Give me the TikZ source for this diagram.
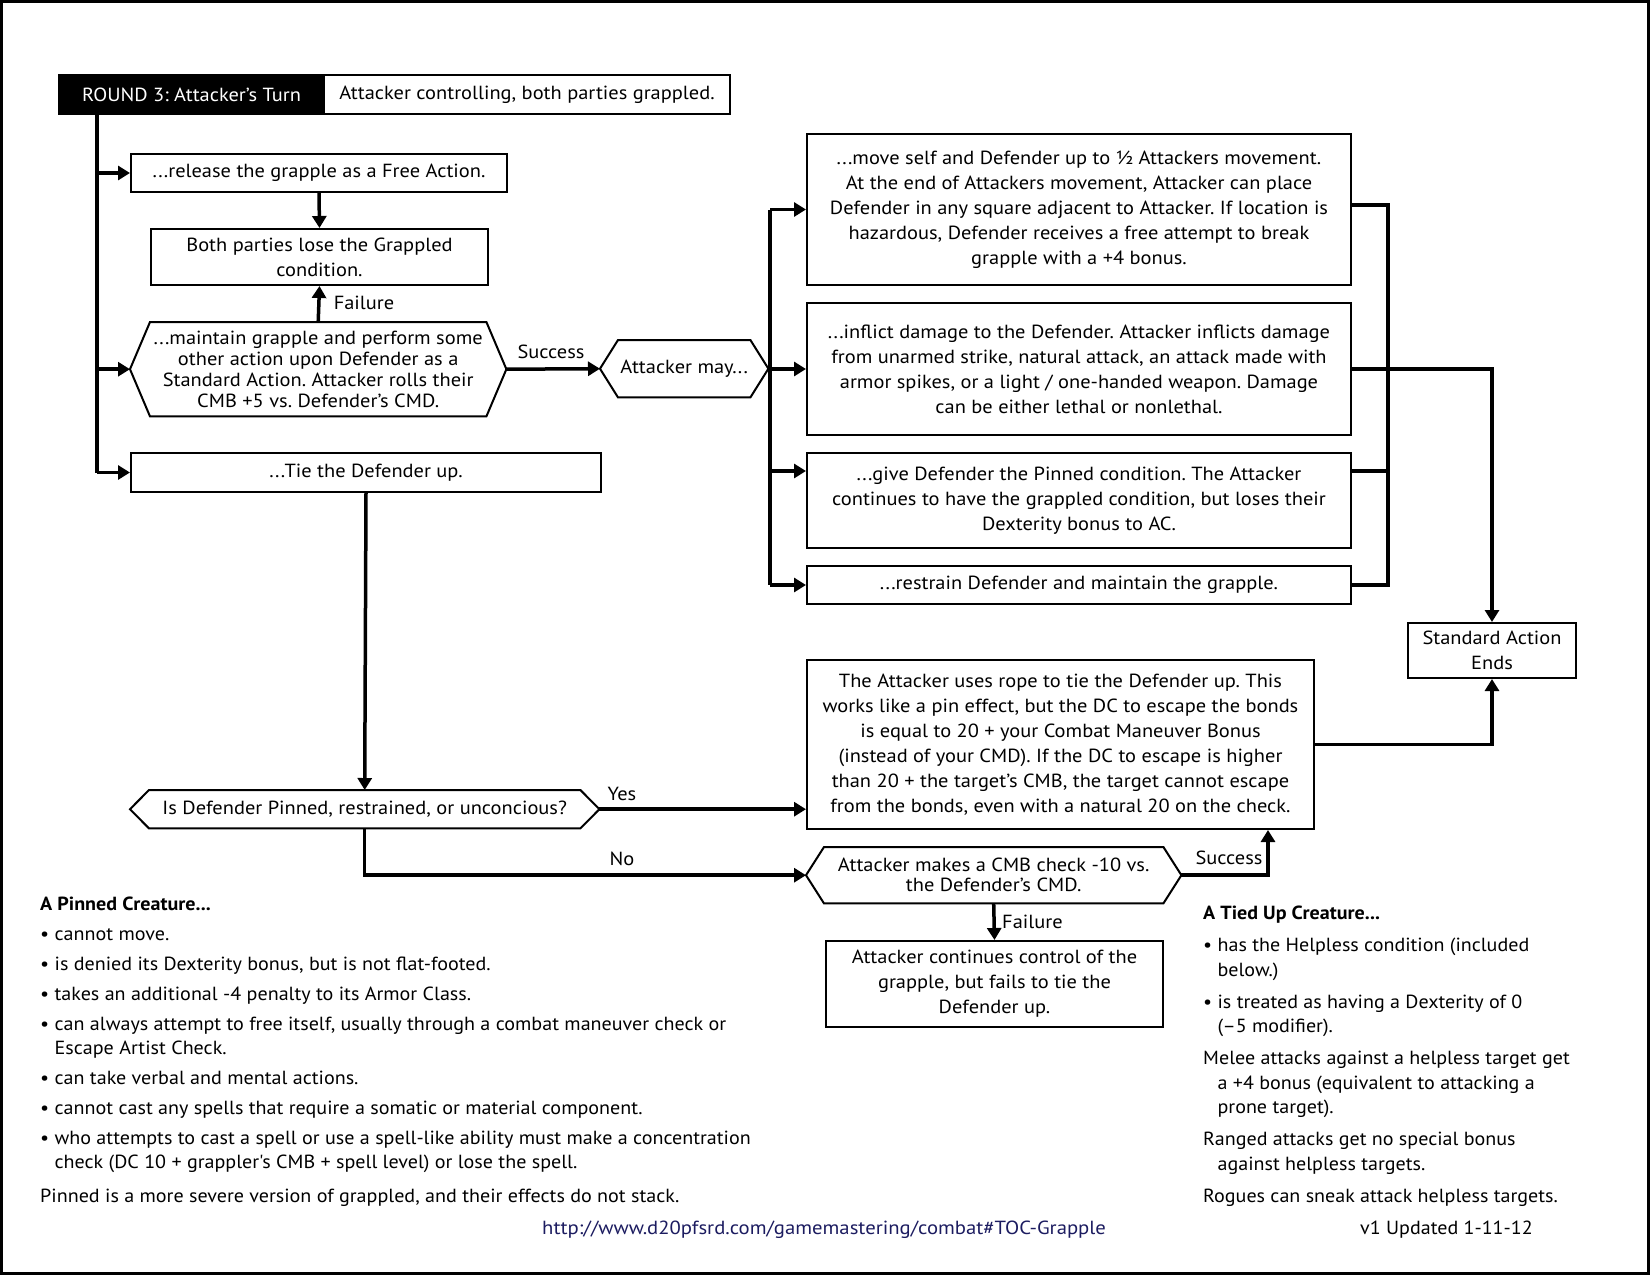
\documentclass[tikz,border=0pt]{standalone}
\usepackage{fontspec}
\setmainfont[FakeStretch=1.075]{PT Sans}
\newfontfamily\pinfont[FakeStretch=1.057]{PT Sans}
\newfontfamily\tiedfont[FakeStretch=1.055]{PT Sans}
\newfontfamily\urlfam[FakeStretch=1.09]{PT Sans}
\usetikzlibrary{arrows.meta}
\frenchspacing
\newcommand\dfont{\fontsize{19}{25}\selectfont}
\newcommand\nfont{\pinfont\fontsize{19}{24}\selectfont}
\newcommand\tfont{\tiedfont\fontsize{19}{24.5}\selectfont}
\newcommand\hexapath[2]{%
  \draw[boxline] (#1.west) -- ([xshift=#2]#1.north west) -- ([xshift=-#2]#1.north east)
    -- (#1.east) -- ([xshift=-#2]#1.south east) -- ([xshift=#2]#1.south west) -- cycle;}
\definecolor{urlblue}{RGB}{28,28,96}
\tikzset{
  boxline/.style={line width=2pt, line join=miter},
  box/.style={draw, line width=2pt, inner sep=0pt, align=center, font=\dfont, anchor=north west},
  hexbox/.style={inner sep=0pt, align=center, font=\dfont, anchor=north west},
  conn/.style={line width=4pt},
  arr/.style={line width=3.5pt, -{Triangle[length=12pt,width=14pt]}},
  lbl/.style={font=\dfont, inner sep=0pt},
  note/.style={font=\nfont, inner sep=0pt, align=left, anchor=north west},
}
\begin{document}
\begin{tikzpicture}[x=1pt, y=-1pt]
\useasboundingbox (0,0) rectangle (1650,1275);
\draw[line width=3pt] (1.5,1.5) rectangle (1648.5,1273.5);

% header
\node[box, fill=black, text=white, minimum width=265, minimum height=39] (round) at (58,74) {ROUND 3: Attacker’s Turn};
\node[box, minimum width=406, minimum height=39] (roundtext) at (323,74) {Attacker controlling, both parties grappled.};

% left column
\node[box, minimum width=376, minimum height=38] (release) at (130,153) {...release the grapple as a Free Action.};
\node[box, minimum width=337, minimum height=56] (both) at (150,228) {Both parties lose the Grappled\\condition.};
\node[hexbox, minimum width=376, minimum height=94, font=\fontsize{19}{21}\selectfont] (maintain) at (130,322)
  {...maintain grapple and perform some\\other action upon Defender as a\\Standard Action. Attacker rolls their\\CMB +5 vs. Defender’s CMD.};
\hexapath{maintain}{20}
\node[hexbox, minimum width=168, minimum height=57] (attmay) at (600,340) {Attacker may...};
\hexapath{attmay}{18}
\node[box, minimum width=470, minimum height=39] (tie) at (130,452) {...Tie the Defender up.};

% right options
\node[box, minimum width=544, minimum height=151] (move) at (806,133)
  {...move self and Defender up to ½ Attackers movement.\\At the end of Attackers movement, Attacker can place\\Defender in any square adjacent to Attacker. If location is\\hazardous, Defender receives a free attempt to break\\grapple with a +4 bonus.};
\node[box, minimum width=544, minimum height=132] (inflict) at (806,302)
  {...inflict damage to the Defender. Attacker inflicts damage\\from unarmed strike, natural attack, an attack made with\\armor spikes, or a light / one-handed weapon. Damage\\can be either lethal or nonlethal.};
\node[box, minimum width=544, minimum height=95] (give) at (806,452)
  {...give Defender the Pinned condition. The Attacker\\continues to have the grappled condition, but loses their\\Dexterity bonus to AC.};
\node[box, minimum width=544, minimum height=38] (restrain) at (806,565) {...restrain Defender and maintain the grapple.};
\node[box, minimum width=168, minimum height=55] (sae) at (1407,622) {Standard Action\\Ends};

% lower flow
\node[box, minimum width=507, minimum height=169] (rope) at (806,659)
  {The Attacker uses rope to tie the Defender up. This\\works like a pin effect, but the DC to escape the bonds\\is equal to 20 + your Combat Maneuver Bonus\\(instead of your CMD). If the DC to escape is higher\\than 20 + the target's CMB, the target cannot escape\\from the bonds, even with a natural 20 on the check.};
\node[hexbox, minimum width=469, minimum height=38] (pinnedq) at (130,790) {Is Defender Pinned, restrained, or unconcious?};
\hexapath{pinnedq}{19}
\node[hexbox, minimum width=375, minimum height=56, font=\fontsize{19}{20}\selectfont] (cmb) at (806,847)
  {Attacker makes a CMB check -10 vs.\\the Defender’s CMD.};
\hexapath{cmb}{18}
\node[box, minimum width=337, minimum height=86] (fail) at (825,940)
  {Attacker continues control of the\\grapple, but fails to tie the\\Defender up.};

% helper coordinates
\coordinate (trunk) at (97,0);
\coordinate (branch) at (770,0);
\coordinate (colx) at (1388,0);
\coordinate (succx) at (1268,0);
\path (give.north west) ++(0,19) coordinate (givein);

% trunk connectors
\draw[conn] (trunk |- round.south) -- (trunk |- tie.west);
\draw[arr] (trunk |- release.west) -- (release.west);
\draw[arr] (trunk |- maintain.west) -- (maintain.west);
\draw[arr] (trunk |- tie.west) -- (tie.west);
\draw[arr] (release.south) -- (both.north);
\draw[arr] (maintain.north) -- (both.south);
\draw[arr] (maintain.east) -- (attmay.west);

% branch from "Attacker may..."
\draw[conn] (branch |- move.west) -- (branch |- restrain.west);
\draw[arr] (branch |- move.west) -- (move.west);
\draw[arr] (branch |- inflict.west) -- (inflict.west);
\draw[arr] (branch |- givein) -- (givein);
\draw[arr] (branch |- restrain.west) -- (restrain.west);

% collector to Standard Action Ends
\draw[conn] ([yshift=5pt]move.east) -| (colx |- restrain.east) -- (restrain.east);
\draw[conn] (givein -| give.east) -- (colx |- givein);
\draw[arr] (inflict.east) -| (sae.north);
\draw[arr] (rope.east) -| (sae.south);

% lower flow
\draw[arr] (tie.south) -- (pinnedq.north);
\draw[arr] (pinnedq.east) -- (pinnedq.east -| rope.west);
\draw[arr] (pinnedq.south) |- (cmb.west);
\draw[arr] (cmb.east) -| (succx |- rope.south);
\draw[arr] (cmb.south) -- (fail.north);

% labels
\node[lbl] (lfail1) at (364,303) {Failure};
\node[lbl] (lsucc1) at (551,352) {Success};
\node[lbl] (lyes) at (622,794) {Yes};
\node[lbl] (lno) at (622,859) {No};
\node[lbl] (lsucc2) at (1229,858) {Success};
\node[lbl, anchor=west] (lfail2) at (1002,922) {Failure};

% notes
\node[note] (pinnednotes) at (40,897) {\textbf{A Pinned Creature...}\\[6pt]
• cannot move.\\[6pt]
• is denied its Dexterity bonus, but is not flat-footed.\\[6pt]
• takes an additional -4 penalty to its Armor Class.\\[6pt]
• can always attempt to free itself, usually through a combat maneuver check or\\
\phantom{• }Escape Artist Check.\\[6pt]
• can take verbal and mental actions.\\[6pt]
• cannot cast any spells that require a somatic or material component.\\[6pt]
• who attempts to cast a spell or use a spell-like ability must make a concentration\\
\phantom{• }check (DC 10 + grappler's CMB + spell level) or lose the spell.\\[10pt]
Pinned is a more severe version of grappled, and their effects do not stack.};

\node[note, font=\tfont] (tiednotes) at (1203,906) {\textbf{A Tied Up Creature...}\\[7.5pt]
• has the Helpless condition (included\\
\phantom{• }below.)\\[7.5pt]
• is treated as having a Dexterity of 0\\
\phantom{• }(–5 modifier).\\[7.5pt]
Melee attacks against a helpless target get\\
\phantom{• }a +4 bonus (equivalent to attacking a\\
\phantom{• }prone target).\\[7.5pt]
Ranged attacks get no special bonus\\
\phantom{• }against helpless targets.\\[7.5pt]
Rogues can sneak attack helpless targets.};

\node[lbl, font=\urlfam\fontsize{19}{24}\selectfont, text=urlblue, anchor=west] (url) at (542,1230) {http://www.d20pfsrd.com/gamemastering/combat\#TOC-Grapple};
\node[lbl, font=\tfont, anchor=west] (version) at (1360,1230) {v1 Updated 1-11-12};
\end{tikzpicture}
\end{document}
